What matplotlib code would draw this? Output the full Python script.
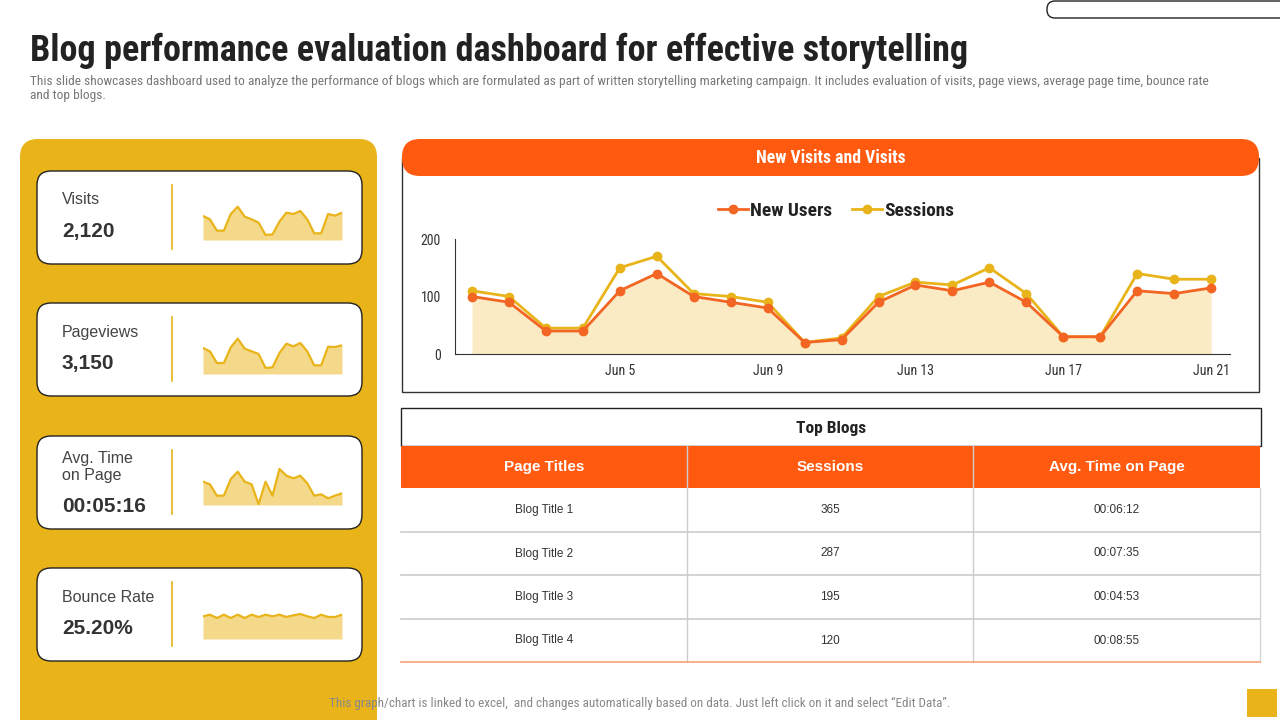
import matplotlib
matplotlib.use("Agg")
import matplotlib.pyplot as plt
from matplotlib.patches import FancyBboxPatch, Rectangle
import numpy as np

# ---------------- data ----------------
days = list(range(1, 22))
new_users = [100, 90, 40, 40, 110, 140, 100, 90, 80, 20, 25, 90, 120, 110, 125, 90, 30, 30, 110, 105, 115]
sessions = [110, 100, 45, 45, 150, 170, 105, 100, 90, 20, 28, 100, 125, 120, 150, 105, 30, 30, 140, 130, 130]
tick_days = [5, 9, 13, 17, 21]
tick_labels = ["Jun 5", "Jun 9", "Jun 13", "Jun 17", "Jun 21"]

kpi_names = ["Visits", "Pageviews", "Avg. Time\non Page", "Bounce Rate"]
kpi_values = ["2,120", "3,150", "00:05:16", "25.20%"]
spark_visits = [72, 62, 28, 28, 78, 100, 70, 62, 52, 15, 17, 55, 82, 78, 87, 62, 20, 20, 78, 73, 82]
spark_pageviews = [78, 68, 33, 33, 80, 106, 76, 68, 60, 18, 20, 63, 91, 83, 93, 68, 26, 26, 82, 81, 86]
spark_time = [70, 62, 28, 28, 78, 100, 70, 62, 2, 70, 28, 108, 88, 80, 88, 65, 28, 32, 20, 28, 35]
spark_bounce = [68, 73, 63, 73, 63, 73, 63, 73, 66, 73, 68, 73, 66, 71, 75, 68, 63, 73, 66, 66, 73]

table_cols = ["Page Titles", "Sessions", "Avg. Time on Page"]
blog_titles = ["Blog Title 1", "Blog Title 2", "Blog Title 3", "Blog Title 4"]
blog_sessions = [365, 287, 195, 120]
blog_times = ["00:06:12", "00:07:35", "00:04:53", "00:08:55"]

# ---------------- style ----------------
YEL = "#E8B419"
ORG = "#FF5A10"
FILL = "#FAEBC5"
SPARK_FILL = "#F5D98A"
DARK = "#333333"
COND = ["Roboto Condensed", "Liberation Sans Narrow", "Roboto", "DejaVu Sans"]
ARIAL = ["Liberation Sans", "DejaVu Sans"]

W, H = 1280, 720
fig = plt.figure(figsize=(12.8, 7.2), dpi=100)
fig.patch.set_facecolor("white")
bg = fig.add_axes([0, 0, 1, 1])
bg.set_xlim(0, W)
bg.set_ylim(H, 0)
bg.axis("off")
renderer = fig.canvas.get_renderer()


def fit(t, target_w):
    bb = t.get_window_extent(renderer=renderer)
    if bb.width > 0:
        t.set_fontsize(t.get_fontsize() * target_w / bb.width)


def rbox(x0, y0, x1, y1, r, fc, ec="none", lw=1.0, z=1):
    p = FancyBboxPatch((x0 + r, y0 + r), (x1 - x0) - 2 * r, (y1 - y0) - 2 * r,
                       boxstyle=f"round,pad={r}", fc=fc, ec=ec, lw=lw, zorder=z,
                       mutation_aspect=1)
    bg.add_patch(p)


def pax(x0, y0, x1, y1):
    return fig.add_axes([x0 / W, 1 - y1 / H, (x1 - x0) / W, (y1 - y0) / H])


# top-right pill outline
rbox(1047, 1, 1320, 18, 8, "white", ec="#222222", lw=1.0)

# title + subtitle
t = bg.text(30, 51, "Blog performance evaluation dashboard for effective storytelling",
            fontsize=24, fontweight="bold", family=COND, color="#222222", va="center", ha="left")
fit(t, 940)
t = bg.text(30, 82, "This slide showcases dashboard used to analyze the performance of blogs which are formulated as part of written storytelling marketing campaign. It includes evaluation of visits, page views, average page time, bounce rate",
            fontsize=7.6, family=COND, color="#777777", va="center", ha="left")
fit(t, 1168)
sub_fs = t.get_fontsize()
bg.text(30, 95, "and top blogs.", fontsize=sub_fs, family=COND, color="#777777", va="center", ha="left")

# left yellow panel
rbox(20, 139, 377, 760, 18, YEL, z=1)

card_tops = [171, 303, 436, 568]
sparks = [spark_visits, spark_pageviews, spark_time, spark_bounce]
for i, top in enumerate(card_tops):
    bot = top + 93
    rbox(37, top, 362, bot, 14, "white", ec="#222222", lw=1.0, z=2)
    bg.plot([172, 172], [top + 14, bot - 15], color=YEL, lw=1.2, zorder=3)
    if "\n" in kpi_names[i]:
        bg.text(62, top + 31, kpi_names[i], fontsize=11.5, family=ARIAL, color="#444444",
                va="center", ha="left", linespacing=1.15, zorder=4)
        bg.text(62, top + 70, kpi_values[i], fontsize=15, family=ARIAL, fontweight="bold",
                color=DARK, va="center", ha="left", zorder=4)
    else:
        bg.text(62, top + 29, kpi_names[i], fontsize=11.5, family=ARIAL, color="#444444",
                va="center", ha="left", zorder=4)
        bg.text(62, top + 61, kpi_values[i], fontsize=15, family=ARIAL, fontweight="bold",
                color=DARK, va="center", ha="left", zorder=4)
    base = [240, 374, 505, 639][i]
    sa = pax(203, base - 40, 342, base)
    xs = np.arange(len(sparks[i]))
    sa.fill_between(xs, 0, sparks[i], color=SPARK_FILL, lw=0)
    sa.plot(xs, sparks[i], color=YEL, lw=1.6)
    sa.set_xlim(0, len(sparks[i]) - 1)
    sa.set_ylim(0, 120)
    sa.axis("off")

# chart header and frame
bg.add_patch(Rectangle((402, 158), 857, 234, fc="white", ec="#333333", lw=1.0, zorder=1))
rbox(402, 139, 1259, 176, 18, ORG, z=2)
t = bg.text(831, 158, "New Visits and Visits", fontsize=12.5, fontweight="bold", family=COND,
            color="white", va="center", ha="center", zorder=3)
fit(t, 149)

ax = pax(455, 239, 1230, 354)
ax.fill_between(days, 0, new_users, color=FILL, lw=0, zorder=1)
ax.plot(days, new_users, color="#F26522", lw=2, marker="o", ms=6, label="New Users", zorder=3)
ax.plot(days, sessions, color=YEL, lw=2, marker="o", ms=6, label="Sessions", zorder=2)
ax.set_xlim(0.54, 21.51)
ax.set_ylim(0, 200)
ax.set_yticks([0, 100, 200])
ax.set_xticks(tick_days)
ax.set_xticklabels(tick_labels)
for s in ["top", "right"]:
    ax.spines[s].set_visible(False)
ax.spines["left"].set_color("#333333")
ax.spines["bottom"].set_color("#333333")
ax.spines["left"].set_linewidth(0.8)
ax.spines["bottom"].set_linewidth(0.8)
ax.tick_params(length=0, labelsize=10, colors="#333333", pad=7)
ax.tick_params(axis="y", pad=10)
for lab in ax.get_xticklabels() + ax.get_yticklabels():
    lab.set_family(COND)
ax.set_facecolor("none")
handles, labels = ax.get_legend_handles_labels()
t = bg.text(0, -100, "New Users", fontsize=12, family=COND, fontweight="bold")
fit(t, 82)
leg_fs = t.get_fontsize()
t.remove()
leg = fig.legend(handles, labels, loc="center", bbox_to_anchor=(836 / W, 1 - 211 / H), ncol=2,
                 frameon=False, prop={"family": COND, "size": leg_fs, "weight": "bold"},
                 handlelength=1.6, handletextpad=0.1, columnspacing=1.0)
for tt in leg.get_texts():
    tt.set_color("#222222")

# table
bg.add_patch(Rectangle((401, 408), 860, 38, fc="white", ec="#222222", lw=1.0, zorder=1))
t = bg.text(831, 428, "Top Blogs", fontsize=12.5, fontweight="bold", family=COND, color="#222222",
            va="center", ha="center", zorder=2)
fit(t, 70)
col_x = [401, 687, 973, 1260]
bg.add_patch(Rectangle((401, 446), 859, 42, fc=ORG, ec="none", zorder=2))
for j, name in enumerate(table_cols):
    cx = (col_x[j] + col_x[j + 1]) / 2
    bg.text(cx, 467, name, fontsize=11, fontweight="bold", family=ARIAL, color="white",
            va="center", ha="center", zorder=3)
row_y = [488, 532, 575, 619, 662]
for k in range(1, len(col_x) - 1):
    bg.plot([col_x[k], col_x[k]], [446, 662], color="#CCCCCC", lw=1.0, zorder=3)
bg.plot([col_x[-1], col_x[-1]], [488, 662], color="#D5D5D5", lw=1.0, zorder=3)
for r in range(4):
    bg.plot([401, 1260], [row_y[r + 1], row_y[r + 1]],
            color="#F5A37A" if r == 3 else "#CCCCCC", lw=1.2, zorder=3)
    cy = (row_y[r] + row_y[r + 1]) / 2
    vals = [blog_titles[r], str(blog_sessions[r]), blog_times[r]]
    for j, v in enumerate(vals):
        cx = (col_x[j] + col_x[j + 1]) / 2
        bg.text(cx, cy, v, fontsize=8.5, family=ARIAL, color="#333333",
                va="center", ha="center", zorder=4)

# footer
t = bg.text(640, 703, "This graph/chart is linked to excel,  and changes automatically based on data. Just left click on it and select \u201cEdit Data\u201d.",
            fontsize=7.8, family=COND, color="#888888", va="center", ha="center", zorder=5)
fit(t, 628)
bg.add_patch(Rectangle((1247, 689), 30, 28, fc=YEL, ec="none", zorder=2))

fig.savefig("out.png", dpi=100, facecolor="white")
